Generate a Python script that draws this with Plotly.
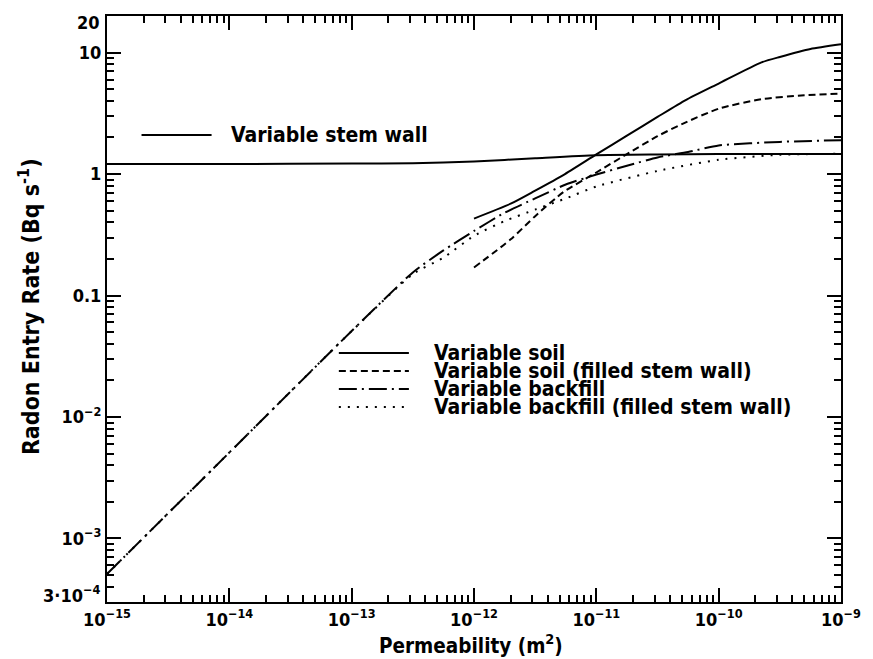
import plotly.graph_objects as go
import numpy as np

# ---------------- data (log10 permeability, entry rate Bq/s) ----------------
stem_logk = [-15, -14, -13, -12.5, -12, -11.5, -11, -10.5, -10, -9.5, -9]
stem_rate = [1.21, 1.21, 1.22, 1.23, 1.27, 1.35, 1.43, 1.45, 1.46, 1.46, 1.46]

soil_logk = [-12, -11.7, -11.5, -11.27, -11.0, -10.75, -10.5, -10.27, -10.0, -9.65, -9.5, -9.25, -9.0]
soil_rate = [0.43, 0.57, 0.73, 0.98, 1.45, 2.07, 2.95, 4.06, 5.56, 8.3, 9.2, 10.7, 11.7]

soilf_logk = [-12, -11.7, -11.5, -11.27, -11.0, -10.75, -10.5, -10.3, -10.0, -9.65, -9.3, -9.0]
soilf_rate = [0.17, 0.29, 0.45, 0.71, 1.03, 1.46, 2.05, 2.58, 3.45, 4.14, 4.45, 4.6]

back_logk = [-15, -14, -13, -12.5, -12.25, -12, -11.75, -11.5, -11.25, -11, -10.75, -10.5, -10.25, -10, -9.5, -9]
back_rate = [5.1e-4, 5.1e-3, 0.051, 0.155, 0.235, 0.34, 0.48, 0.63, 0.82, 0.99, 1.17, 1.37, 1.52, 1.72, 1.84, 1.9]

backf_logk = [-15, -14, -13, -12.5, -12.25, -12, -11.75, -11.5, -11.25, -11, -10.5, -10, -9.5, -9]
backf_rate = [5.1e-4, 5.1e-3, 0.051, 0.15, 0.205, 0.31, 0.41, 0.51, 0.63, 0.79, 1.06, 1.31, 1.44, 1.47]

x_tick_exp = [-15, -14, -13, -12, -11, -10, -9]
y_tick_vals = [10, 1, 0.1, 0.01, 0.001]
y_tick_text = ["10", "1", "0.1", "10<sup>−2</sup>", "10<sup>−3</sup>"]
y_end_labels = [("20", 23), ("3·10<sup>−4</sup>", 594)]   # axis-end labels (text, pixel y)

legend_top = [("Variable stem wall", "solid")]
legend_mid = [
    ("Variable soil", "solid"),
    ("Variable soil (filled stem wall)", "7px,4px"),
    ("Variable backfill", "18px,5px,2px,5px"),
    ("Variable backfill (filled stem wall)", "2px,7px"),
]

# ---------------- figure ----------------
W, H = 873, 659
L, R, T, B = 107, 22, 16, 57
FONT = "DejaVu Sans Condensed"
TXT = dict(family=FONT, size=21, color="black", weight="bold")
TICKF = dict(family=FONT, size=18, color="black", weight="bold")

def px2paper(px, py):
    return (px - L) / (W - L - R), ((H - B) - py) / (H - T - B)

series = [
    ("Variable stem wall", stem_logk, stem_rate, "solid"),
    ("Variable soil", soil_logk, soil_rate, "solid"),
    ("Variable soil (filled stem wall)", soilf_logk, soilf_rate, "7px,4px"),
    ("Variable backfill", back_logk, back_rate, "18px,5px,2px,5px"),
    ("Variable backfill (filled stem wall)", backf_logk, backf_rate, "2px,7px"),
]

fig = go.Figure()
for name, lk, r, dash in series:
    fig.add_trace(go.Scatter(
        x=10.0 ** np.array(lk), y=r, mode="lines", name=name,
        line=dict(color="black", width=2, dash=dash, shape="spline", smoothing=0.6),
        showlegend=False,
    ))

# invisible trace that carries the minor-tick overlay axes
fig.add_trace(go.Scatter(x=[1e-12], y=[1.0], xaxis="x2", yaxis="y2", mode="markers",
                         marker=dict(opacity=0), showlegend=False))

x_minor = [m * 10.0 ** e for e in range(-15, -9) for m in range(2, 10)]
y_minor = [m * 10.0 ** e for e in range(-4, 2) for m in range(2, 10)]
y_minor = [v for v in y_minor if 3e-4 < v < 20]

x_range = [-15, -9]
y_range = [np.log10(3e-4), np.log10(20)]

fig.update_layout(
    xaxis=dict(type="log", range=x_range, showline=True, linecolor="black", linewidth=2,
               mirror="ticks", ticks="inside", ticklen=14, tickwidth=2, tickcolor="black",
               showgrid=False, tickfont=TICKF, tickmode="array",
               tickvals=[10.0 ** e for e in x_tick_exp],
               ticktext=[f"10<sup>−{abs(e)}</sup>" for e in x_tick_exp]),
    yaxis=dict(type="log", range=y_range, showline=True, linecolor="black", linewidth=2,
               mirror="ticks", ticks="inside", ticklen=14, tickwidth=2, tickcolor="black",
               showgrid=False, tickfont=TICKF, tickmode="array",
               tickvals=y_tick_vals, ticktext=y_tick_text),
    xaxis2=dict(type="log", range=x_range, overlaying="x", anchor="y2", side="bottom",
                ticks="inside", ticklen=7, tickwidth=2, tickcolor="black",
                tickmode="array", tickvals=x_minor, showticklabels=False, showgrid=False,
                mirror="ticks", showline=True, linecolor="black", linewidth=2),
    yaxis2=dict(type="log", range=y_range, overlaying="y", anchor="x2", side="left",
                ticks="inside", ticklen=7, tickwidth=2, tickcolor="black",
                tickmode="array", tickvals=y_minor, showticklabels=False, showgrid=False,
                mirror="ticks", showline=True, linecolor="black", linewidth=2),
)

shapes = []
annotations = []

def add_legend_row(x0, x1, xt, y, text, dash):
    a0, b0 = px2paper(x0, y)
    a1, _ = px2paper(x1, y)
    at, _ = px2paper(xt, y)
    shapes.append(dict(type="line", xref="paper", yref="paper", x0=a0, x1=a1, y0=b0, y1=b0,
                       line=dict(color="black", width=2, dash=dash)))
    annotations.append(dict(xref="paper", yref="paper", x=at, y=b0, text=text,
                            showarrow=False, xanchor="left", yanchor="middle", font=TXT))

for text, dash in legend_top:
    add_legend_row(142, 213, 231, 135, text, dash)

mid_rows_y = [353, 371, 389, 407]
for (text, dash), y in zip(legend_mid, mid_rows_y):
    add_legend_row(342, 413, 436, y, text, dash)

for text, py in y_end_labels:
    lx, ly = px2paper(102, py)
    annotations.append(dict(xref="paper", yref="paper", x=lx, y=ly, text=text,
                            showarrow=False, xanchor="right", yanchor="middle", font=TICKF))

ax_, ay_ = px2paper(476, 644)
annotations.append(dict(xref="paper", yref="paper", x=ax_, y=ay_,
                        text="Permeability (m<sup>2</sup>)", showarrow=False,
                        xanchor="center", yanchor="middle",
                        font=dict(TXT, size=20.5)))
bx_, by_ = px2paper(28, 307)
annotations.append(dict(xref="paper", yref="paper", x=bx_, y=by_,
                        text="Radon Entry Rate (Bq s<sup>-1</sup>)", showarrow=False,
                        textangle=-90, xanchor="center", yanchor="middle",
                        font=dict(TXT, size=23)))

fig.update_layout(
    width=W, height=H,
    margin=dict(l=L, r=R, t=T, b=B),
    paper_bgcolor="white", plot_bgcolor="white",
    shapes=shapes, annotations=annotations,
    showlegend=False,
)

fig.write_html("out.html")
